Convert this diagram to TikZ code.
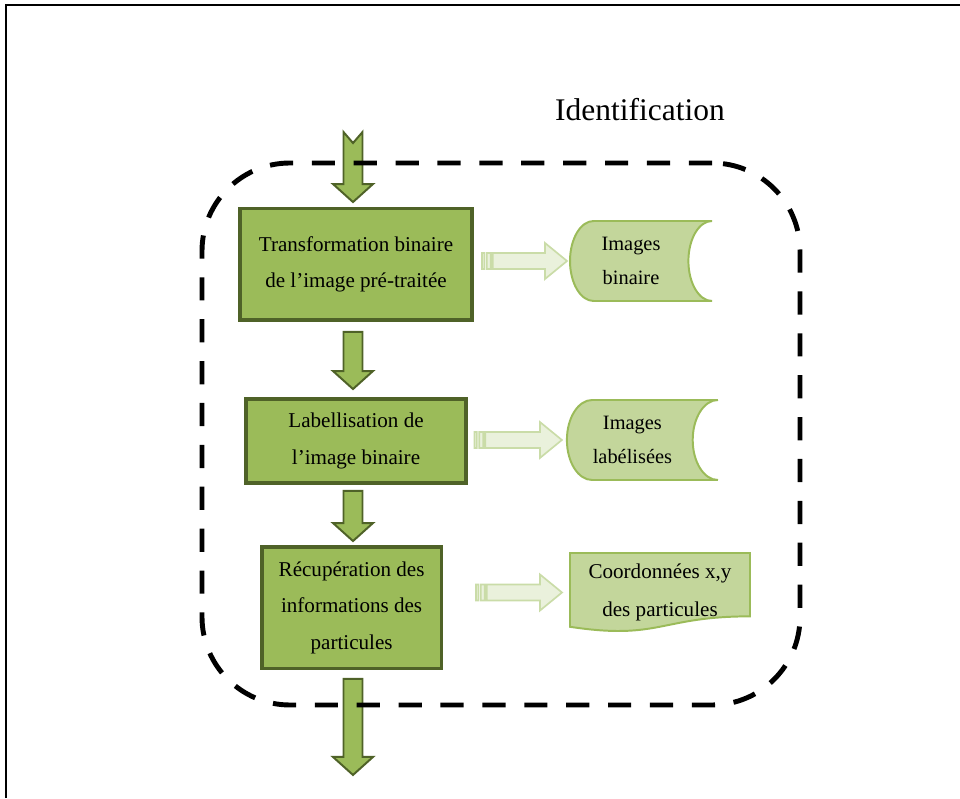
\documentclass[tikz,border=0pt]{standalone}
\usepackage{fontspec}
\setmainfont{Liberation Serif}
\usepackage{xcolor}
\usepackage{tikz}
\usetikzlibrary{arrows.meta, positioning, backgrounds, calc}
\definecolor{vertolive}{HTML}{9BBB59}
\definecolor{vertfonce}{HTML}{4F6228}
\definecolor{vertclair}{HTML}{C3D69B}
\definecolor{vertpale}{HTML}{EAF1DC}
\definecolor{vertbord}{HTML}{CADCA8}
\tikzstyle{etape} = [rectangle, draw=vertfonce, line width=2.5pt, fill=vertolive, text centered, align=center, font=\fontsize{15}{26}\selectfont]
\tikzstyle{stock} = [rectangle, minimum height=2cm, align=center, inner sep=0pt, outer sep=0pt, font=\fontsize{14.5}{24.5}\selectfont]
\tikzstyle{stockbord} = [draw=vertolive, fill=vertclair, line width=1.4pt]
\tikzstyle{flechebloc} = [draw=vertfonce, fill=vertolive, line width=1.4pt, line join=miter]
\tikzstyle{flechelegere} = [draw=vertbord, fill=vertpale, line width=1.2pt]
\tikzstyle{cadre} = [rectangle, draw=black, line width=3.5pt, dash pattern=on 16.5pt off 13.3pt, rounded corners=2.2cm]
\newcommand{\flechebas}[3]{% #1 = haut, #2 = pointe, #3 = encoche
  \draw[flechebloc] let \p1=#1, \p2=#2 in
    (\x1-0.2375cm,\y1) -- (\x1-0.2375cm,\y2+0.45cm) -- (\x1-0.5cm,\y2+0.45cm) -- (\x1,\y2)
    -- (\x1+0.5cm,\y2+0.45cm) -- (\x1+0.2375cm,\y2+0.45cm) -- (\x1+0.2375cm,\y1) -- (\x1,\y1-#3) -- cycle;}
\newcommand{\flechedroite}[2]{% #1 = queue, #2 = pointe
  \draw[flechelegere] let \p1=#1, \p2=#2 in
    (\x1,\y2-0.2cm) rectangle (\x1+0.06cm,\y2+0.2cm)
    (\x1+0.12cm,\y2-0.2cm) rectangle (\x1+0.22cm,\y2+0.2cm)
    (\x1+0.27cm,\y2-0.2cm) -- (\x2-0.55cm,\y2-0.2cm) -- (\x2-0.55cm,\y2-0.45cm) -- (\x2,\y2)
    -- (\x2-0.55cm,\y2+0.45cm) -- (\x2-0.55cm,\y2+0.2cm) -- (\x1+0.27cm,\y2+0.2cm) -- cycle;}
\newcommand{\stockage}[3]{% #1 = noeud, #2 = creux, #3 = decalage du bord
  \draw[stockbord] ($(#1.north west)+(#2+#3,0)$) -- ($(#1.north east)+(#3,0)$)
    arc[start angle=90, end angle=270, x radius=#2, y radius=1cm]
    -- ($(#1.south west)+(#2+#3,0)$)
    arc[start angle=270, end angle=90, x radius=#2, y radius=1cm] -- cycle;}

\begin{document}
\begin{tikzpicture}
    % Etape d'identification des particules
    \useasboundingbox (0,0) rectangle (24,19.95);
    \draw[line width=1.4pt] (0.15,0) |- (24,19.83);
    \coordinate (axe) at (8.825,0);

    \node[etape, minimum width=5.81cm, minimum height=2.79cm] (t1) at (8.9,13.34) {Transformation binaire\\de l’image pré-traitée};
    \node[etape, minimum width=5.49cm, minimum height=2.11cm] (t2) at (8.9,8.925) {Labellisation de\\l’image binaire};
    \node[etape, minimum width=4.49cm, minimum height=3.04cm] (t3) at (8.79,4.76) {Récupération des\\informations des\\particules};

    \node[stock, minimum width=3.55cm] (s1) at (15.775,13.425) {Images\\binaire};
    \node[stock, minimum width=3.775cm] (s2) at (15.81,8.95) {Images\\labélisées};
    \node[stock, minimum width=4.5cm, minimum height=1.975cm, font=\fontsize{15}{27}\selectfont] (d3) at (16.5,5.1375) {Coordonnées x,y\\des particules};

    \begin{scope}[on background layer]
      \stockage{s1}{0.59cm}{0.25cm}
      \stockage{s2}{0.63cm}{0.25cm}
      \draw[stockbord] (d3.north west) -- (d3.north east) -- ++(0,-1.584)
        .. controls ($(d3.north)+(0,-1.584)$) and ($(d3.north)+(0,-2.187)$) .. ($(d3.north west)+(0,-1.845)$) -- cycle;
    \end{scope}

    \flechebas{($(axe |- t1.north)+(0,1.87)$)}{($(axe |- t1.north)+(0,0.12)$)}{0.275cm}
    \flechebas{($(axe |- t1.south)+(0,-0.25)$)}{($(axe |- t2.north)+(0,0.2)$)}{0cm}
    \flechebas{($(axe |- t2.south)+(0,-0.15)$)}{($(axe |- t3.north)+(0,0.1)$)}{0cm}
    \flechebas{($(axe |- t3.south)+(0,-0.22)$)}{($(axe |- t3.south)+(0,-2.62)$)}{0cm}

    \flechedroite{($(t1.east)+(0.2,0)$)}{($(s1.west)+(0.175,0)$)}
    \flechedroite{($(t2.east)+(0.17,0)$)}{($(s2.west)+(0.125,0)$)}
    \flechedroite{($(t3.east)+(0.82,0)$)}{($(d3.west)+(-0.2,0)$)}

    \node[cadre, minimum width=14.95cm, minimum height=13.55cm] (zone) at (12.525,9.1) {};
    \node[font=\fontsize{22.4}{26}\selectfont] (titre) at (16,17.2) {Identification};
\end{tikzpicture}
\end{document}
